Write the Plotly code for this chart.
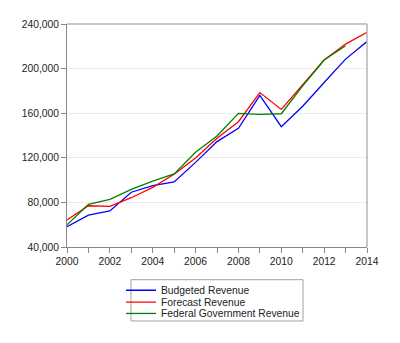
import plotly.graph_objects as go

years = list(range(2000, 2015))
budgeted = [58200, 68500, 72300, 89100, 95000, 98300, 115900, 134500, 146500, 175900,
            147900, 166300, 187500, 208500, 224200]
forecast = [64200, 77000, 76500, 84200, 93500, 105300, 119900, 137500, 152400, 178500,
            163400, 186000, 207700, 222000, 232500]
federal = [59900, 78300, 82800, 91700, 99100, 105600, 125000, 139500, 159800, 159000,
           159500, 184500, 207700, 220500]

names = ["Budgeted Revenue", "Forecast Revenue", "Federal Government Revenue"]
colors = ["rgb(0,0,255)", "rgb(255,0,0)", "rgb(0,128,0)"]
series = [budgeted, forecast, federal]
legend_ids = ["legend", "legend2", "legend3"]
legend_y = [-0.194, -0.247, -0.298]

fnt = dict(family="Liberation Sans, Arial, sans-serif", size=10.3, color="#222")

fig = go.Figure()
for name, col, vals, lid in zip(names, colors, series, legend_ids):
    fig.add_trace(go.Scatter(x=years[:len(vals)], y=vals, mode="lines", name=name,
                             line=dict(color=col, width=1.3), legend=lid))

legend_common = dict(x=0.18, xanchor="left", yanchor="middle", bgcolor="rgba(0,0,0,0)",
                     borderwidth=0, font=fnt, itemwidth=30)

fig.update_layout(
    width=400, height=343,
    margin=dict(l=67, r=33, t=24, b=96, autoexpand=False),
    paper_bgcolor="white", plot_bgcolor="white",
    font=fnt,
    showlegend=True,
    legend=dict(y=legend_y[0], **legend_common),
    legend2=dict(y=legend_y[1], **legend_common),
    legend3=dict(y=legend_y[2], **legend_common),
    xaxis=dict(range=[2000, 2014], tickmode="linear", tick0=2000, dtick=2, automargin=False,
               showgrid=False, zeroline=False, showline=True, linecolor="#888", linewidth=1,
               ticks="outside", ticklen=5, tickcolor="#888",
               minor=dict(dtick=1, ticks="outside", ticklen=5, tickcolor="#888", showgrid=False)),
    yaxis=dict(range=[40000, 240000], tickmode="linear", tick0=40000, dtick=40000, automargin=False,
               tickformat=",d", showgrid=True, gridcolor="#ebebeb", gridwidth=1,
               zeroline=False, showline=True, linecolor="#888", linewidth=1,
               ticks="outside", ticklen=5, tickcolor="#888"),
    shapes=[
        dict(type="line", xref="paper", yref="paper", x0=0, x1=1, y0=1, y1=1,
             line=dict(color="#b4b4b4", width=1.5)),
        dict(type="line", xref="paper", yref="paper", x0=1, x1=1, y0=0, y1=1,
             line=dict(color="#b4b4b4", width=1.5)),
        dict(type="rect", xref="paper", yref="paper", x0=0.2133, x1=0.7867, y0=-0.3318, y1=-0.1466,
             line=dict(color="#a0a0a0", width=1), fillcolor="rgba(0,0,0,0)", layer="below"),
    ],
)

fig.write_html("out.html")
